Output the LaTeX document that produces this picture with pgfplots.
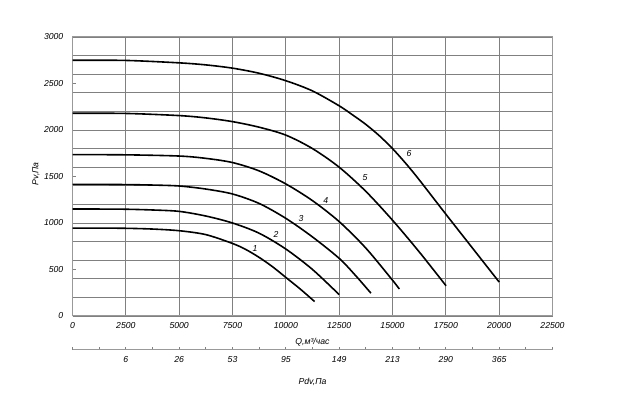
\documentclass[border=0pt]{standalone}
\usepackage{fontspec}
\setmainfont{Liberation Sans}
\usepackage{pgfplots}
\pgfplotsset{compat=1.18}
\begin{document}
\begin{tikzpicture}[font=\fontsize{8.7}{10}\selectfont\itshape,
  curve/.style={black, line width=1.6bp, smooth, mark=none, solid}]
\path[use as bounding box] (0,0) rectangle (620bp,403bp);
\begin{axis}[
  at={(72.5bp,87bp)}, anchor=south west,
  scale only axis, width=480bp, height=279bp,
  xmin=0, xmax=22500, ymin=0, ymax=3000,
  scaled ticks=false,
  xtick={0,2500,...,22500},
  xticklabels={0,2500,5000,7500,10000,12500,15000,17500,20000,22500},
  ytick={0,500,...,3000},
  yticklabels={0,500,1000,1500,2000,2500,3000},
  minor ytick={0,200,...,3000},
  xmajorgrids, yminorgrids, ymajorgrids=false,
  grid style={black!50, line width=0.8bp},
  minor grid style={black!50, line width=0.8bp},
  axis line style={black!40, line width=1bp},
  ytick pos=left, xtick pos=bottom,
  xtick style={draw=none},
  ytick style={black!50, line width=0.8bp},
  major tick length=3bp, minor tick length=0pt,
  tick align=inside,
  xticklabel style={anchor=center, yshift=-9.5bp, inner sep=0pt},
  yticklabel style={anchor=east, xshift=-9bp, inner sep=0pt},
  xlabel={Q,м³/час}, ylabel={Pv,Па},
  xlabel style={at={(axis description cs:0.5,-0.093)}, anchor=center},
  ylabel style={at={(axis description cs:-0.076,0.51)}, anchor=center},
]
\addplot[curve] coordinates {(0,945)(1250,945)(2500,943)(3750,935)(5000,917)(6250,875)(7500,780)(8125,715)(8750,630)(9375,530)(10000,415)(10675,290)(11350,155)};
\addplot[curve] coordinates {(0,1150)(1250,1150)(2500,1148)(3750,1140)(5000,1125)(6250,1075)(7500,1000)(8750,890)(10000,720)(11250,500)(12500,230)};
\addplot[curve] coordinates {(0,1415)(1250,1415)(2500,1413)(3750,1408)(5000,1398)(6250,1365)(7500,1312)(8750,1210)(10000,1050)(11250,850)(12500,620)(13250,440)(13990,245)};
\addplot[curve] coordinates {(0,1735)(2500,1733)(5000,1720)(6250,1695)(7500,1650)(8750,1560)(10000,1420)(11250,1240)(12500,1015)(13750,730)(15000,385)(15320,290)};
\addplot[curve] coordinates {(0,2180)(2500,2178)(5000,2155)(6250,2130)(7500,2090)(8750,2030)(10000,1945)(11250,1800)(12500,1600)(13750,1340)(15000,1030)(16250,690)(17510,325)};
\addplot[curve] coordinates {(0,2750)(2500,2748)(5000,2722)(6250,2700)(7500,2665)(8750,2610)(10000,2530)(11250,2420)(12500,2260)(13125,2163)(13750,2060)(14375,1940)(15000,1800)(15625,1640)(16250,1465)(17500,1095)(18750,730)(20000,365)};
\node at (axis cs:8556,728) {1};
\node at (axis cs:9540,878) {2};
\node at (axis cs:10712,1050) {3};
\node at (axis cs:11870,1240) {4};
\node at (axis cs:13713,1487) {5};
\node at (axis cs:15776,1742) {6};
\end{axis}
\begin{axis}[
  at={(72.5bp,53bp)}, anchor=south west,
  scale only axis, width=480bp, height=10bp,
  xmin=0, xmax=22500, ymin=0, ymax=1,
  scaled ticks=false,
  axis x line=bottom, axis y line=none,
  axis line style={black!40, line width=1bp, -},
  xtick={2500,5000,...,20000},
  xticklabels={6,26,53,95,149,213,290,365},
  minor xtick={0,1250,...,22500},
  tick align=inside, major tick length=2.5bp, minor tick length=2.5bp,
  tick style={black!50, line width=0.8bp},
  xticklabel style={anchor=center, yshift=-10bp, inner sep=0pt},
  xlabel={Pdv,Па},
  xlabel style={at={(axis description cs:0.5,0)}, anchor=center, yshift=-32bp},
]
\addplot[draw=none, mark=none] coordinates {(0,0)};
\end{axis}
\end{tikzpicture}
\end{document}
